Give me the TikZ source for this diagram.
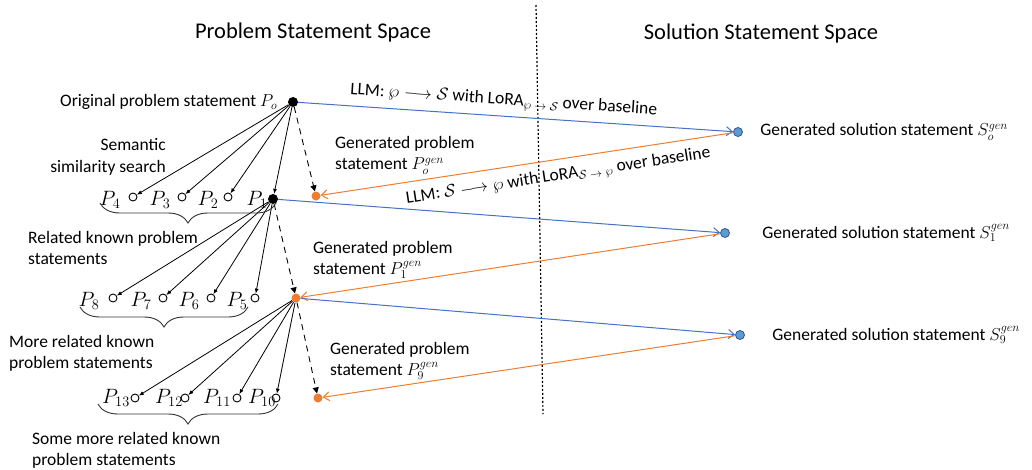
\documentclass[tikz,border=0pt]{standalone}
\usepackage{fontspec}
\setmainfont{Carlito}
\usetikzlibrary{arrows.meta, positioning, decorations.pathreplacing}
\definecolor{llmblue}{RGB}{68,114,196}
\definecolor{llmorange}{RGB}{237,125,49}
\definecolor{dotblue}{RGB}{91,155,213}
\definecolor{dotblueline}{RGB}{49,85,140}

\begin{document}
\begin{tikzpicture}[
x=1pt, y=-1pt,
font=\fontsize{17.5}{21.5}\selectfont,
node distance=8pt,
known/.style={circle, draw, fill=white, line width=0.9pt, inner sep=0pt, minimum size=8pt},
seed/.style={circle, fill=black, inner sep=0pt, minimum size=10pt},
gen/.style={circle, fill=llmorange, inner sep=0pt, minimum size=9pt},
sol/.style={circle, draw=dotblueline, fill=dotblue, line width=0.8pt, inner sep=0pt, minimum size=9pt},
plabel/.style={inner sep=1pt, font=\fontsize{20}{24}\selectfont},
txt/.style={align=left, inner sep=0pt},
search/.style={-{Latex[length=5pt, width=4pt]}, line width=0.8pt},
toproblem/.style={dash pattern=on 6pt off 5pt, -{Triangle[length=6pt, width=6pt]}, line width=0.9pt},
forward/.style={llmblue, line width=1pt, -{Straight Barb[length=6pt, width=9pt]}},
backward/.style={llmorange, line width=1pt, -{Straight Barb[length=6pt, width=9pt]}},
group/.style={decorate, decoration={brace, mirror, amplitude=20pt}, line width=0.9pt, draw=black!80}
]

\useasboundingbox (0,0) rectangle (1032,469);

% space titles and divider
\node (ptitle) at (313,32) {\fontsize{22.5}{27}\selectfont Problem Statement Space};
\node (stitle) at (761,33) {\fontsize{22.5}{27}\selectfont Solution Statement Space};
\coordinate (divtop) at (536,5);
\coordinate (divbot) at (543,414);
\draw[dash pattern=on 2pt off 2pt, line width=1.2pt] (divtop) -- (divbot);

% problem statements
\node[seed] (p0) at (293,102) {};
\node[seed] (p1) at (273,199) {};
\node[known] (p2) at (228,197) {};
\node[known] (p3) at (182,197) {};
\node[known] (p4) at (133,197) {};
\node[known] (p5) at (255,298) {};
\node[known] (p6) at (211,298) {};
\node[known] (p7) at (163,298) {};
\node[known] (p8) at (113,298) {};
\node[known] (p10) at (276,398) {};
\node[known] (p11) at (237,398) {};
\node[known] (p12) at (185,398) {};
\node[known] (p13) at (135,398) {};
\node[gen] (g0) at (316,196) {};
\node[gen] (g1) at (296,298) {};
\node[gen] (g9) at (318,398) {};

% solution statements
\node[sol] (s0) at (738,132) {};
\node[sol] (s1) at (725,233) {};
\node[sol] (s9) at (740,335) {};

% labels
\node[plabel] (lp1) at (257,200) {$P_1$};
\node[plabel] (lp2) at (208,200) {$P_2$};
\node[plabel] (lp3) at (160,200) {$P_3$};
\node[plabel] (lp4) at (110,200) {$P_4$};
\node[plabel] (lp5) at (237,301) {$P_5$};
\node[plabel] (lp6) at (189,301) {$P_6$};
\node[plabel] (lp7) at (141,301) {$P_7$};
\node[plabel] (lp8) at (89,301) {$P_8$};
\node[plabel] (lp10) at (262,398) {$P_{10}$};
\node[plabel] (lp11) at (217,398) {$P_{11}$};
\node[plabel] (lp12) at (169,398) {$P_{12}$};
\node[plabel] (lp13) at (116,398) {$P_{13}$};

\node[left=7pt of p0] (origtxt) {Original problem statement $P_o$};
\node[txt, align=right, anchor=east] (searchtxt) at (166,157) {Semantic\\similarity search};
\node[txt, anchor=north west] (grp1txt) at (28,231) {Related known problem\\statements};
\node[txt, anchor=north west] (grp2txt) at (9,335) {More related known\\problem statements};
\node[txt, anchor=north west] (grp3txt) at (32,432) {Some more related known\\problem statements};
\node[txt, anchor=north west] (gen0txt) at (335,136) {Generated problem\\statement $P_o^{gen}$};
\node[txt, anchor=north west] (gen1txt) at (313,241) {Generated problem\\statement $P_1^{gen}$};
\node[txt, anchor=north west] (gen9txt) at (330,342) {Generated problem\\statement $P_9^{gen}$};
\node[right=14pt of s0] (sol0txt) {Generated solution statement $S_o^{gen}$};
\node[right=29pt of s1] (sol1txt) {Generated solution statement $S_1^{gen}$};
\node[right=24pt of s9] (sol9txt) {Generated solution statement $S_9^{gen}$};

% semantic search
\draw[search] (p0) -- (p4);
\draw[search] (p0) -- (p3);
\draw[search] (p0) -- (p2);
\draw[search] (p0) -- (p1);
\draw[search] (p1) -- (p8);
\draw[search] (p1) -- (p7);
\draw[search] (p1) -- (p6);
\draw[search] (p1) -- (p5);
\draw[search] (g1) -- (p13);
\draw[search] (g1) -- (p12);
\draw[search] (g1) -- (p11);
\draw[search] (g1) -- (p10);

\draw[toproblem] (p0) -- (g0);
\draw[toproblem] (p1) -- (g1);
\draw[toproblem] (g1) -- (g9);

% LLM round trips
\draw[forward] (p0) -- node[sloped, above=3pt, pos=0.47, text=black] (fwdtxt) {LLM: $\wp \longrightarrow \mathcal{S}$ with LoRA$_{\wp\;\rightarrow\;\mathcal{S}}$ over baseline} (s0);
\draw[backward] (s0) -- node[sloped, below=5pt, pos=0.43, text=black] (bwdtxt) {LLM: $\mathcal{S} \longrightarrow \wp$ with LoRA$_{\mathcal{S}\;\rightarrow\;\wp}$ over baseline} (g0);
\draw[forward] (p1) -- (s1);
\draw[backward] (s1) -- (g1);
\draw[forward] (g1) -- (s9);
\draw[backward] (s9) -- (g9);

% groups
\coordinate (b1l) at (100,203);
\coordinate (b1r) at (276,203);
\coordinate (b2l) at (80,307);
\coordinate (b2r) at (248,307);
\coordinate (b3l) at (98,404);
\coordinate (b3r) at (278,404);
\draw[group] (b1l) -- (b1r);
\draw[group] (b2l) -- (b2r);
\draw[group] (b3l) -- (b3r);

\end{tikzpicture}
\end{document}
